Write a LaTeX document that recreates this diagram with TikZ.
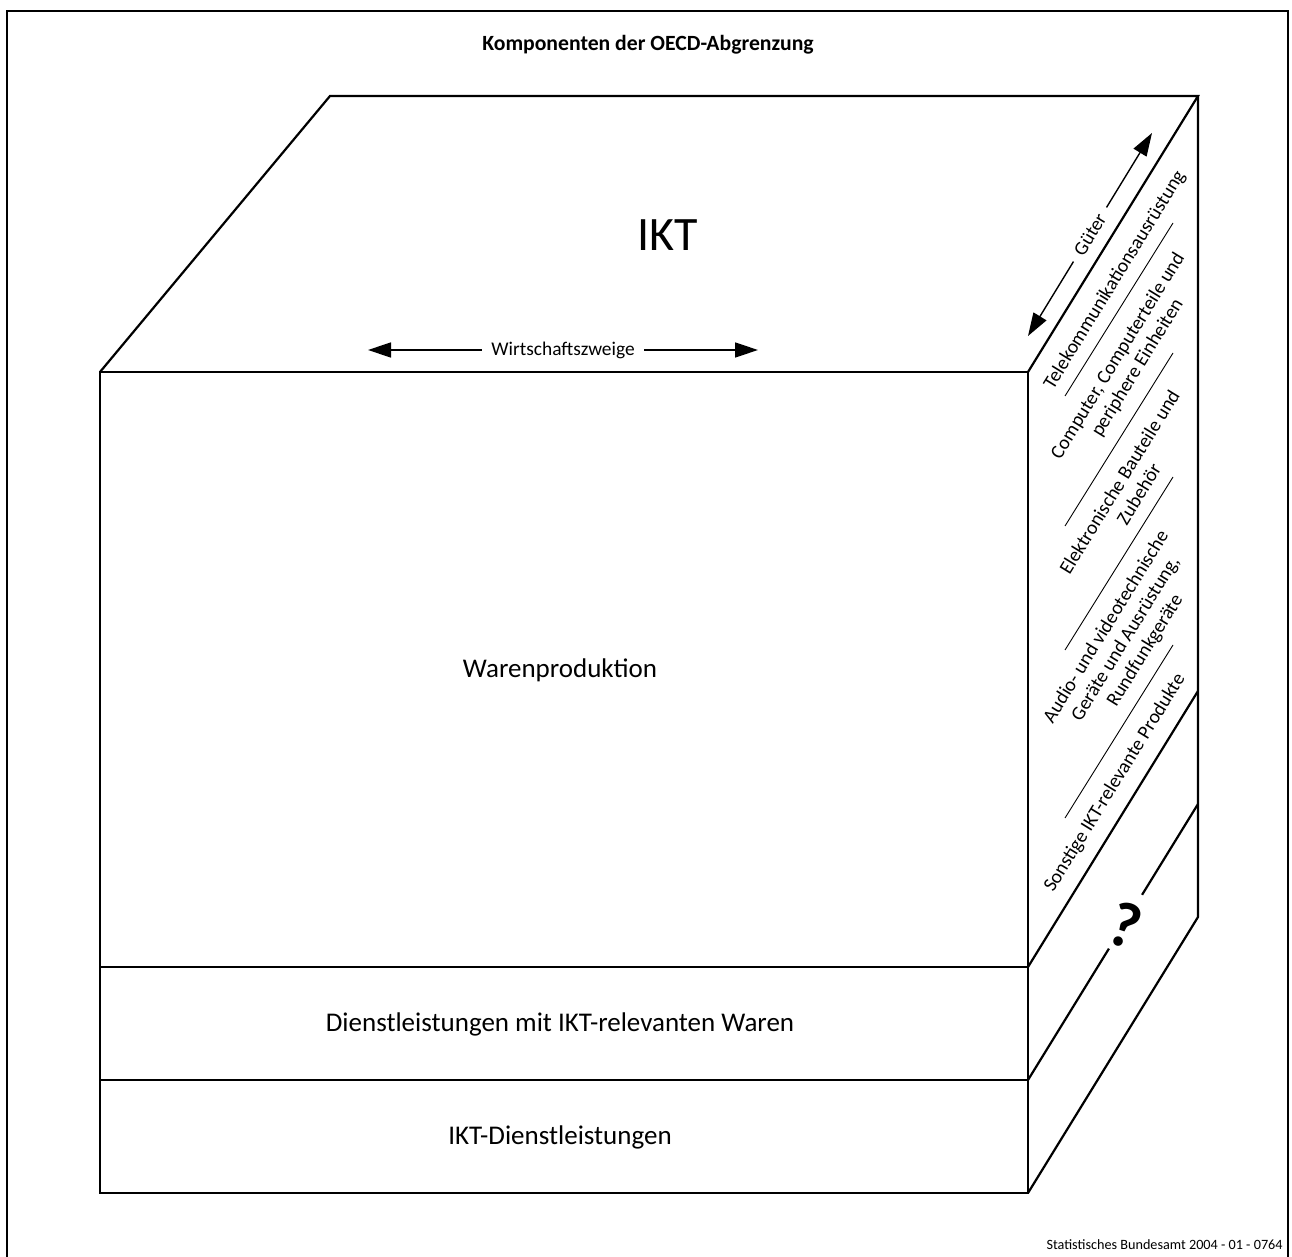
\documentclass[tikz,border=0pt]{standalone}
\usepackage{fontspec}
\setmainfont{Carlito}
\usetikzlibrary{arrows.meta, calc}

\begin{document}
\begin{tikzpicture}[
    x=0.5pt, y=-0.5pt,
    edge/.style={line width=1.1pt, line join=miter},
    sepline/.style={line width=0.45pt},
    dbl/.style={{Triangle[length=11.5pt, width=7.5pt]}-{Triangle[length=11.5pt, width=7.5pt]}, line width=0.7pt},
    facetext/.style={font=\fontsize{13.5}{16}\selectfont},
    sidetext/.style={rotate=58.4, align=center, font=\fontsize{9.8}{11.4}\selectfont, inner sep=0pt}
]
    \useasboundingbox (0,0) rectangle (1292,1257);

    % --- Frame and title ---
    \draw[line width=1.2pt] (7,1275) -- (7,11) -- (1288,11) -- (1288,1275);
    \node[font=\fontsize{10.85}{12}\selectfont\bfseries] (title) at (648,45) {Komponenten der OECD-Abgrenzung};

    % --- Cube corners ---
    \coordinate (ftl) at (100,372);
    \coordinate (ftr) at (1028,372);
    \coordinate (fbr) at (1028,1193);
    \coordinate (fbl) at (100,1193);
    \coordinate (btl) at (330,96);
    \coordinate (btr) at (1198,96);
    \coordinate (bbr) at (1198,917);
    \coordinate (w1) at (100,967);
    \coordinate (w2) at (1028,967);
    \coordinate (d1) at (100,1080);
    \coordinate (d2) at (1028,1080);
    \coordinate (s1) at (1198,691);
    \coordinate (s2) at (1198,804);

    % --- Front face ---
    \draw[edge, line width=1.4pt] (ftl) rectangle (fbr);
    \draw[edge] (w1) -- (w2);
    \draw[edge] (d1) -- (d2);

    % --- Top and right faces ---
    \draw[edge] (ftl) -- (btl) -- (btr) -- (ftr);
    \draw[edge] (btr) -- (bbr) -- (fbr);
    \draw[edge] (w2) -- (s1);
    \draw[edge] (d2) -- ($(d2)!0.476!(s2)$);
    \draw[edge] ($(d2)!0.671!(s2)$) -- (s2);

    % --- Thin separators on the right face ---
    \foreach \y in {223,353,477,645}
        \draw[sepline] (1173,\y) -- ++(-108,173);

    % --- Labels ---
    \node[font=\fontsize{24}{28}\selectfont] (ikt) at (668,235) {IKT};
    \coordinate (wl) at (368,350);
    \coordinate (wr) at (758,350);
    \draw[dbl] (wl) -- node[fill=white, inner xsep=4.5pt, font=\fontsize{9.7}{11}\selectfont] (wz) {Wirtschaftszweige} (wr);
    \coordinate (gl) at (1028,336);
    \coordinate (gr) at (1152,133);
    \draw[dbl] (gl) -- node[sloped, fill=white, inner xsep=4.5pt, font=\fontsize{9.7}{11}\selectfont] (gt) {Güter} (gr);

    \node[facetext] (waren) at (560,670) {Warenproduktion};
    \node[facetext] (dlw) at (560,1024) {Dienstleistungen mit IKT-relevanten Waren};
    \node[facetext] (dl) at (560,1137) {IKT-Dienstleistungen};

    \node[sidetext] (tele) at (1115,280) {Telekommunikationsausrüstung};
    \node[sidetext] (comp) at (1128,362) {Computer, Computerteile und\\periphere Einheiten};
    \node[sidetext] (elek) at (1129,488) {Elektronische Bauteile und\\Zubehör};
    \node[sidetext] (audio) at (1126,639) {Audio- und videotechnische\\Geräte und Ausrüstung,\\Rundfunkgeräte};
    \node[sidetext] (sonst) at (1115,783) {Sonstige IKT-relevante Produkte};
    \node[rotate=-18, font=\fontsize{32}{34}\selectfont\bfseries] (frage) at (1125,925) {?};

    \node[anchor=east, inner sep=0pt, font=\fontsize{7.1}{8}\selectfont] (quelle) at (1283,1245) {Statistisches Bundesamt 2004 - 01 - 0764};
\end{tikzpicture}
\end{document}
